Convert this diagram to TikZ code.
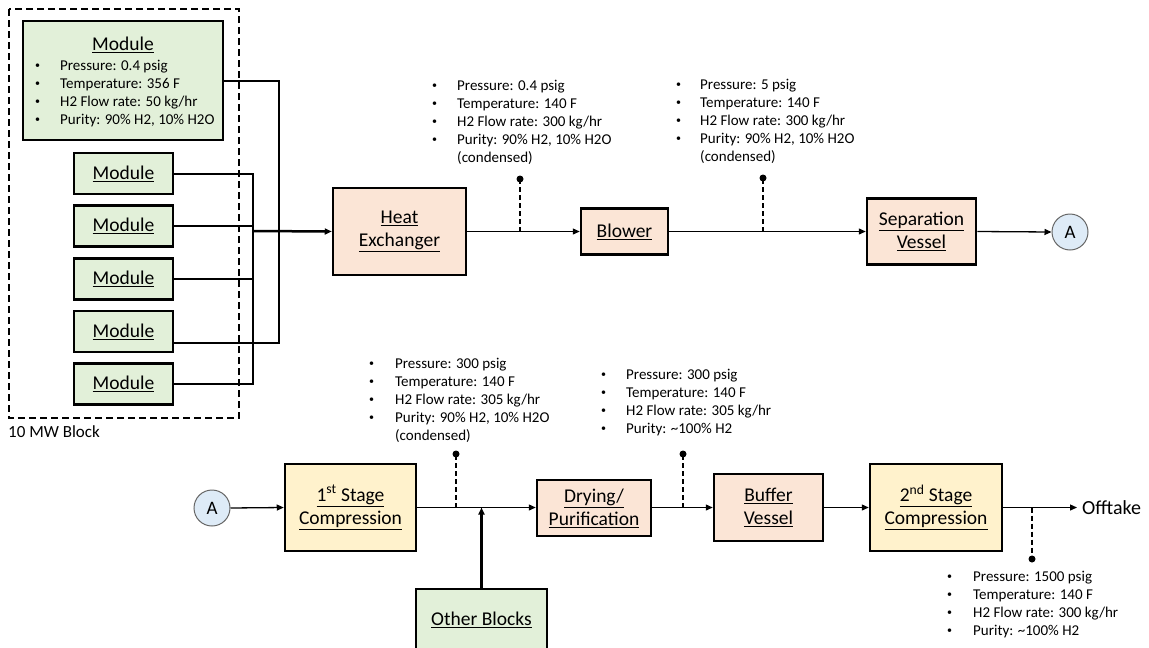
\documentclass[tikz,border=0pt]{standalone}
\usepackage{fontspec}
\setmainfont{Carlito}
\usetikzlibrary{arrows.meta,positioning}
\definecolor{modgreen}{HTML}{E2F0D9}
\definecolor{procpink}{HTML}{FBE5D6}
\definecolor{compyellow}{HTML}{FFF2CC}
\definecolor{tagblue}{HTML}{DEEBF7}
\tikzset{
  unitbox/.style={draw,line width=2.5pt,inner sep=0pt,align=center,
    font=\fontsize{19.5}{23}\selectfont},
  modbox/.style={unitbox,fill=modgreen,minimum width=99pt,minimum height=41pt},
  procbox/.style={unitbox,fill=procpink},
  compbox/.style={unitbox,fill=compyellow,minimum width=131pt,minimum height=87pt},
  tag/.style={circle,draw=black!60,line width=1pt,fill=tagblue,minimum size=36pt,
    inner sep=0pt,font=\fontsize{19}{22}\selectfont},
  note/.style={anchor=base west,inner sep=0pt,font=\fontsize{15}{18}\selectfont},
  flow/.style={line width=1.3pt,-{Triangle[length=7pt,width=6pt]}},
  bus/.style={line width=2pt},
  tapline/.style={line width=2pt,dash pattern=on 5pt off 3pt},
}
\newcommand{\bul}{\raisebox{0.15ex}{\fontsize{10}{10}\selectfont\textbullet}}
\begin{document}
\begin{tikzpicture}[x=1pt,y=-1pt]
  \useasboundingbox (0,0) rectangle (1149,648);
  % 10 MW block
  \draw[line width=2.5pt,dash pattern=on 7pt off 4pt] (9,9) rectangle (239,418);
  \node[anchor=west,inner sep=0pt,font=\fontsize{17}{20}\selectfont] (blocklabel) at (8,432) {10 MW Block};
  \node[modbox,minimum width=200pt,minimum height=119pt] (mod0) at (123,80.5) {};
  \node[inner sep=0pt,font=\fontsize{19.5}{23}\selectfont] (mod0title) at (123,45) {\underline{Module}};
  \node[note] (mod0list) at (35,70) {\begin{tabular}[t]{@{}p{25pt}@{}l@{}}
    \bul & Pressure: 0.4 psig\\
    \bul & Temperature: 356 F\\
    \bul & H2 Flow rate: 50 kg/hr\\
    \bul & Purity: 90\% H2, 10\% H2O
  \end{tabular}};
  \node[modbox] (mod1) at (123.5,173.5) {\underline{Module}};
  \node[modbox] (mod2) at (123.5,226) {\underline{Module}};
  \node[modbox] (mod3) at (123.5,279) {\underline{Module}};
  \node[modbox] (mod4) at (123.5,331.5) {\underline{Module}};
  \node[modbox] (mod5) at (123.5,384) {\underline{Module}};
  % collecting lines
  \coordinate (busR) at (279,343);
  \coordinate (busL) at (253,384);
  \coordinate (busout) at (253,231);
  \draw[bus] (mod0.east) -| (busR) -- ([yshift=-11.5pt]mod4.east);
  \draw[bus] (mod1.east) -| (busL) -- (mod5.east);
  \draw[bus] (mod2.east) -- (mod2.east -| busL);
  \draw[bus] (mod3.east) -- (mod3.east -| busL);
  % top train
  \node[procbox,minimum width=133pt,minimum height=87pt] (hex) at (399.5,231.5) {\underline{Heat}\\\underline{Exchanger}};
  \node[procbox,minimum width=87pt,minimum height=46pt] (blower) at (624.5,231.5) {\underline{Blower}};
  \node[procbox,minimum width=109pt,minimum height=66pt] (sepvessel) at (921.5,231.5) {\underline{Separation}\\\underline{Vessel}};
  \node[tag] (tagA) at (1070,232) {A};
  \draw[flow,line width=2.5pt] (busout) -- (hex.west);
  \draw[flow] (hex.east) -- (blower.west);
  \draw[flow] (blower.east) -- (sepvessel.west);
  \draw[flow] (sepvessel.east) -- (tagA.west);
  \coordinate (tap1) at (520,179);
  \coordinate (tap2) at (763,178);
  \draw[tapline] (tap1 |- hex.east) -- (tap1);
  \draw[tapline] (tap2 |- hex.east) -- (tap2);
  \fill (tap1) circle (3.5pt) (tap2) circle (3.5pt);
  \node[note] (note1) at (432,90) {\begin{tabular}[t]{@{}p{25pt}@{}l@{}}
    \bul & Pressure: 0.4 psig\\
    \bul & Temperature: 140 F\\
    \bul & H2 Flow rate: 300 kg/hr\\
    \bul & Purity: 90\% H2, 10\% H2O\\
         & (condensed)
  \end{tabular}};
  \node[note] (note2) at (676,89) {\begin{tabular}[t]{@{}p{24pt}@{}l@{}}
    \bul & Pressure: 5 psig\\
    \bul & Temperature: 140 F\\
    \bul & H2 Flow rate: 300 kg/hr\\
    \bul & Purity: 90\% H2, 10\% H2O\\
         & (condensed)
  \end{tabular}};
  % bottom train
  \node[tag] (tagB) at (212,508) {A};
  \node[compbox] (stage1) at (350.5,507.5) {\underline{1\textsuperscript{st} Stage}\\\underline{Compression}};
  \node[procbox,minimum width=114pt,minimum height=56pt] (dryer) at (594,508) {\underline{Drying/}\\\underline{Purification}};
  \node[procbox,minimum width=109pt,minimum height=67pt] (buffer) at (768.5,507.5) {\underline{Buffer}\\\underline{Vessel}};
  \node[compbox,minimum width=132pt] (stage2) at (936,507.5) {\underline{2\textsuperscript{nd} Stage}\\\underline{Compression}};
  \node[anchor=west,inner sep=0pt,font=\fontsize{20}{24}\selectfont] (offtake) at (1082,507.5) {Offtake};
  \node[unitbox,line width=2pt,fill=modgreen,minimum width=131pt,minimum height=62pt] (others) at (481.5,620) {\underline{Other Blocks}};
  \draw[flow] (tagB.east) -- (stage1.west);
  \draw[flow] (stage1.east) -- (dryer.west |- stage1.east);
  \draw[flow] (dryer.east |- stage1.east) -- (buffer.west);
  \draw[flow] (buffer.east) -- (stage2.west);
  \draw[flow] (stage2.east) -- ([xshift=-5pt]offtake.west);
  \draw[flow,line width=2.5pt] (others.north) -- (others.north |- stage1.east);
  \coordinate (tap3) at (456,454);
  \coordinate (tap4) at (683,454);
  \coordinate (tap5) at (1032,559);
  \draw[tapline] (tap3 |- stage1.east) -- (tap3);
  \draw[tapline] (tap4 |- stage1.east) -- (tap4);
  \draw[tapline] (tap5 |- stage1.east) -- (tap5);
  \fill (tap3) circle (3.5pt) (tap4) circle (3.5pt) (tap5) circle (3.5pt);
  \node[note] (note3) at (369,368) {\begin{tabular}[t]{@{}p{26pt}@{}l@{}}
    \bul & Pressure: 300 psig\\
    \bul & Temperature: 140 F\\
    \bul & H2 Flow rate: 305 kg/hr\\
    \bul & Purity: 90\% H2, 10\% H2O\\
         & (condensed)
  \end{tabular}};
  \node[note] (note4) at (601,379) {\begin{tabular}[t]{@{}p{25pt}@{}l@{}}
    \bul & Pressure: 300 psig\\
    \bul & Temperature: 140 F\\
    \bul & H2 Flow rate: 305 kg/hr\\
    \bul & Purity: \textasciitilde100\% H2
  \end{tabular}};
  \node[note] (note5) at (947,581) {\begin{tabular}[t]{@{}p{26pt}@{}l@{}}
    \bul & Pressure: 1500 psig\\
    \bul & Temperature: 140 F\\
    \bul & H2 Flow rate: 300 kg/hr\\
    \bul & Purity: \textasciitilde100\% H2
  \end{tabular}};
\end{tikzpicture}
\end{document}
